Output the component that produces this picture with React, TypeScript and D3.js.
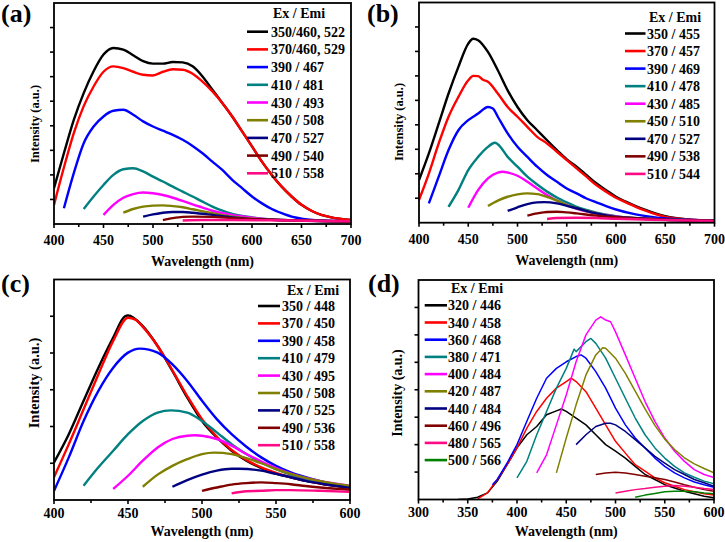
import React from 'react';
import * as d3 from 'd3';

type Pt = [number, number];

// ---------- colours & legends ----------
const colors9 = ['#000000', '#ff0000', '#0000ff', '#008080', '#ff00ff', '#808000', '#000080', '#800000', '#ff0a84'];
const colorsD = ['#000000', '#ff0000', '#0000ff', '#008080', '#ff00ff', '#808000', '#000080', '#800000', '#ff0a84', '#008000'];

const legendA = ['350/460, 522', '370/460, 529', '390 / 467', '410 / 481', '430 / 493', '450 / 508', '470 / 527', '490 / 540', '510 / 558'];
const legendB = ['350 / 455', '370 / 457', '390 / 469', '410 / 478', '430 / 485', '450 / 510', '470 / 527', '490 / 538', '510 / 544'];
const legendC = ['350 / 448', '370 / 450', '390 / 458', '410 / 479', '430 / 495', '450 / 508', '470 / 525', '490 / 536', '510 / 558'];
const legendD = ['320 / 446', '340 / 458', '360 / 468', '380 / 471', '400 / 484', '420 / 487', '440 / 484', '460 / 496', '480 / 565', '500 / 566'];

const ticksAB = [400, 450, 500, 550, 600, 650, 700];
const ticksC = [400, 450, 500, 550, 600];
const ticksD = [300, 350, 400, 450, 500, 550, 600];

// ---------- panel (a) ----------
const a350: Pt[] = [[400, 1.46], [410, 2.88], [420, 4.24], [430, 5.33], [440, 6.22], [450, 6.9], [460, 7.17], [470, 7.1], [480, 6.87], [490, 6.63], [500, 6.53], [510, 6.53], [520, 6.6], [530, 6.58], [540, 6.42], [550, 6.01], [560, 5.47], [570, 4.93], [580, 4.38], [590, 3.77], [600, 3.16], [610, 2.54], [620, 2.0], [630, 1.52], [640, 1.12], [650, 0.78], [660, 0.54], [670, 0.37], [680, 0.27], [700, 0.16]];
const a370: Pt[] = [[400, 0.78], [410, 2.3], [420, 3.7], [430, 4.8], [440, 5.6], [450, 6.2], [460, 6.42], [470, 6.35], [480, 6.2], [490, 6.08], [500, 6.05], [510, 6.2], [520, 6.3], [530, 6.28], [540, 6.12], [550, 5.8], [560, 5.4], [570, 4.93], [580, 4.38], [590, 3.77], [600, 3.16], [610, 2.54], [620, 2.0], [630, 1.52], [640, 1.12], [650, 0.78], [660, 0.54], [670, 0.37], [680, 0.27], [700, 0.16]];
const a390: Pt[] = [[410, 0.64], [420, 2.07], [430, 3.29], [440, 3.97], [450, 4.38], [460, 4.61], [470, 4.65], [480, 4.45], [490, 4.18], [500, 3.97], [510, 3.8], [520, 3.63], [530, 3.43], [540, 3.18], [550, 2.88], [560, 2.54], [570, 2.2], [580, 1.8], [590, 1.46], [600, 1.12], [610, 0.84], [620, 0.61], [630, 0.44], [640, 0.3], [650, 0.22], [670, 0.14], [700, 0.1]];
const a410: Pt[] = [[430, 0.61], [440, 1.12], [450, 1.59], [460, 2.0], [470, 2.23], [480, 2.27], [490, 2.14], [500, 1.93], [510, 1.73], [520, 1.52], [530, 1.32], [540, 1.12], [550, 0.91], [560, 0.71], [570, 0.54], [580, 0.41], [600, 0.27], [620, 0.19], [650, 0.14], [700, 0.1]];
const a430: Pt[] = [[450, 0.37], [460, 0.78], [470, 1.07], [480, 1.22], [490, 1.28], [500, 1.25], [510, 1.18], [520, 1.07], [530, 0.94], [540, 0.8], [550, 0.67], [560, 0.54], [580, 0.37], [600, 0.26], [630, 0.16], [700, 0.1]];
const a450: Pt[] = [[470, 0.46], [480, 0.61], [490, 0.71], [500, 0.75], [510, 0.76], [520, 0.73], [530, 0.68], [540, 0.6], [560, 0.44], [580, 0.3], [600, 0.22], [650, 0.14], [700, 0.1]];
const a470: Pt[] = [[490, 0.3], [500, 0.39], [510, 0.46], [520, 0.49], [530, 0.49], [540, 0.46], [560, 0.37], [580, 0.27], [600, 0.2], [650, 0.14], [700, 0.1]];
const a490: Pt[] = [[510, 0.16], [520, 0.24], [530, 0.29], [540, 0.3], [560, 0.29], [580, 0.24], [600, 0.2], [650, 0.14], [700, 0.1]];
const a510: Pt[] = [[530, 0.14], [550, 0.16], [580, 0.16], [620, 0.15], [700, 0.11]];

// ---------- panel (b) ----------
const b350: Pt[] = [[400, 1.74], [410, 2.83], [420, 4.05], [430, 5.28], [440, 6.37], [450, 7.32], [455, 7.52], [460, 7.46], [470, 6.98], [480, 6.23], [490, 5.41], [500, 4.73], [510, 4.19], [520, 3.78], [530, 3.37], [540, 2.97], [550, 2.59], [560, 2.29], [570, 1.95], [580, 1.61], [590, 1.33], [600, 1.06], [610, 0.86], [620, 0.68], [630, 0.52], [640, 0.38], [650, 0.27], [660, 0.19], [680, 0.11], [700, 0.08]];
const b370: Pt[] = [[400, 0.93], [410, 2.01], [420, 3.24], [430, 4.33], [440, 5.14], [450, 5.82], [455, 6.0], [460, 5.99], [465, 5.84], [470, 5.76], [480, 5.28], [490, 4.73], [500, 4.33], [510, 3.92], [520, 3.51], [530, 3.24], [540, 2.9], [550, 2.56], [560, 2.22], [570, 1.88], [580, 1.54], [590, 1.27], [600, 1.02], [610, 0.83], [620, 0.65], [630, 0.49], [640, 0.35], [650, 0.24], [660, 0.18], [680, 0.11], [700, 0.07]];
const b390: Pt[] = [[410, 0.79], [420, 1.88], [430, 2.97], [440, 3.78], [450, 4.19], [460, 4.46], [470, 4.73], [475, 4.67], [480, 4.33], [490, 3.65], [500, 3.1], [510, 2.69], [520, 2.29], [530, 1.95], [540, 1.67], [550, 1.4], [560, 1.2], [570, 0.99], [580, 0.83], [590, 0.68], [600, 0.54], [620, 0.34], [640, 0.22], [660, 0.15], [700, 0.08]];
const b410: Pt[] = [[430, 0.65], [440, 1.33], [450, 2.15], [460, 2.69], [470, 3.1], [477, 3.27], [480, 3.21], [490, 2.69], [500, 2.29], [510, 1.88], [520, 1.56], [530, 1.27], [540, 1.03], [550, 0.83], [560, 0.65], [570, 0.52], [580, 0.41], [600, 0.27], [620, 0.19], [650, 0.12], [700, 0.07]];
const b430: Pt[] = [[450, 0.61], [460, 1.33], [470, 1.81], [480, 2.05], [485, 2.08], [490, 2.05], [500, 1.92], [510, 1.67], [520, 1.4], [530, 1.13], [540, 0.9], [550, 0.72], [560, 0.57], [580, 0.38], [600, 0.26], [630, 0.16], [700, 0.08]];
const b450: Pt[] = [[470, 0.68], [480, 0.9], [490, 1.06], [500, 1.16], [510, 1.2], [520, 1.17], [530, 1.06], [540, 0.9], [550, 0.72], [560, 0.59], [580, 0.38], [600, 0.24], [650, 0.14], [700, 0.08]];
const b470: Pt[] = [[490, 0.48], [500, 0.63], [510, 0.76], [520, 0.83], [527, 0.84], [540, 0.79], [550, 0.69], [560, 0.59], [580, 0.38], [600, 0.24], [650, 0.14], [700, 0.08]];
const b490: Pt[] = [[510, 0.29], [520, 0.38], [530, 0.44], [540, 0.45], [550, 0.42], [560, 0.38], [580, 0.29], [600, 0.22], [650, 0.12], [700, 0.08]];
const b510: Pt[] = [[530, 0.15], [540, 0.19], [560, 0.2], [580, 0.19], [600, 0.16], [650, 0.11], [700, 0.07]];

// ---------- panel (c) ----------
const c350: Pt[] = [[400, 1.02], [410, 1.79], [420, 2.7], [430, 3.6], [440, 4.42], [448, 5.0], [450, 5.02], [460, 4.73], [470, 4.19], [480, 3.51], [490, 2.79], [500, 2.15], [510, 1.7], [520, 1.34], [530, 1.07], [540, 0.87], [550, 0.72], [560, 0.62], [570, 0.52], [580, 0.45], [590, 0.39], [600, 0.33]];
const c370: Pt[] = [[400, 0.62], [410, 1.52], [420, 2.47], [430, 3.42], [440, 4.33], [450, 4.96], [455, 4.91], [460, 4.71], [470, 4.19], [480, 3.53], [490, 2.83], [500, 2.2], [510, 1.72], [520, 1.36], [530, 1.09], [540, 0.89], [550, 0.74], [560, 0.62], [570, 0.53], [580, 0.45], [590, 0.39], [600, 0.33]];
const c390: Pt[] = [[400, 0.25], [410, 1.16], [420, 2.15], [430, 2.97], [440, 3.6], [450, 4.01], [458, 4.12], [470, 4.01], [480, 3.69], [490, 3.24], [500, 2.7], [510, 2.2], [520, 1.79], [530, 1.45], [540, 1.16], [550, 0.93], [560, 0.75], [570, 0.62], [580, 0.51], [590, 0.42], [600, 0.34]];
const c410: Pt[] = [[420, 0.39], [430, 0.89], [440, 1.34], [450, 1.79], [460, 2.15], [470, 2.38], [479, 2.44], [490, 2.38], [500, 2.15], [510, 1.84], [520, 1.52], [530, 1.25], [540, 1.02], [550, 0.84], [560, 0.69], [570, 0.57], [580, 0.48], [590, 0.42], [600, 0.36]];
const c430: Pt[] = [[440, 0.3], [450, 0.66], [460, 1.07], [470, 1.43], [480, 1.66], [490, 1.75], [495, 1.76], [500, 1.75], [510, 1.66], [520, 1.48], [530, 1.25], [540, 1.05], [550, 0.87], [560, 0.72], [570, 0.6], [580, 0.51], [600, 0.39]];
const c450: Pt[] = [[460, 0.36], [470, 0.69], [480, 0.93], [490, 1.11], [500, 1.25], [508, 1.29], [520, 1.25], [530, 1.14], [540, 1.0], [550, 0.84], [560, 0.71], [570, 0.6], [580, 0.51], [600, 0.38]];
const c470: Pt[] = [[480, 0.36], [490, 0.54], [500, 0.69], [510, 0.8], [520, 0.85], [525, 0.85], [540, 0.8], [550, 0.71], [560, 0.62], [570, 0.52], [580, 0.45], [600, 0.33]];
const c490: Pt[] = [[500, 0.25], [510, 0.34], [520, 0.42], [530, 0.46], [540, 0.48], [550, 0.46], [560, 0.43], [570, 0.38], [580, 0.34], [600, 0.28]];
const c510: Pt[] = [[520, 0.18], [530, 0.24], [540, 0.25], [550, 0.27], [560, 0.27], [580, 0.25], [600, 0.22]];

// ---------- panel (d) ----------
const d320: Pt[] = [[340, 0.0], [350, 0.02], [360, 0.08], [370, 0.24], [380, 0.67], [390, 1.27], [400, 1.88], [410, 2.36], [420, 2.66], [430, 3.09], [440, 3.23], [445, 3.3], [450, 3.21], [460, 2.97], [470, 2.72], [480, 2.36], [490, 2.0], [500, 1.76], [510, 1.51], [520, 1.21], [530, 0.91], [540, 0.73], [550, 0.54], [560, 0.42], [570, 0.3], [580, 0.21], [590, 0.12], [600, 0.06]];
const d340: Pt[] = [[360, 0.02], [370, 0.24], [380, 0.73], [390, 1.27], [400, 1.88], [410, 2.6], [420, 3.21], [430, 3.69], [440, 4.06], [450, 4.3], [455, 4.42], [460, 4.3], [470, 3.93], [480, 3.33], [490, 2.72], [500, 2.12], [510, 1.69], [520, 1.27], [530, 1.03], [540, 0.79], [550, 0.61], [560, 0.48], [570, 0.36], [580, 0.28], [590, 0.21], [600, 0.16]];
const d360: Pt[] = [[375, 0.54], [380, 0.73], [390, 1.33], [400, 2.0], [410, 2.85], [420, 3.69], [430, 4.42], [440, 4.78], [450, 5.02], [460, 5.21], [465, 5.27], [470, 5.15], [480, 4.66], [490, 4.06], [500, 3.33], [510, 2.72], [520, 2.24], [530, 1.88], [540, 1.51], [550, 1.21], [560, 0.97], [570, 0.79], [580, 0.64], [590, 0.54], [600, 0.45]];
const d380: Pt[] = [[400, 0.79], [410, 1.39], [420, 2.36], [430, 3.21], [440, 4.06], [450, 4.78], [458, 5.48], [460, 5.39], [470, 5.75], [475, 5.87], [480, 5.69], [490, 5.15], [500, 4.42], [510, 3.69], [520, 2.97], [530, 2.36], [540, 1.88], [550, 1.51], [560, 1.21], [570, 0.97], [580, 0.81], [590, 0.67], [600, 0.57]];
const d400: Pt[] = [[420, 0.97], [430, 1.63], [440, 2.72], [450, 3.81], [460, 5.02], [470, 6.0], [480, 6.54], [485, 6.66], [490, 6.54], [495, 6.48], [500, 6.11], [510, 5.27], [520, 4.42], [530, 3.57], [540, 2.85], [550, 2.24], [560, 1.76], [570, 1.39], [580, 1.09], [590, 0.91], [600, 0.8]];
const d420: Pt[] = [[440, 0.97], [450, 2.24], [460, 3.45], [470, 4.54], [480, 5.27], [487, 5.53], [490, 5.51], [500, 5.15], [510, 4.6], [520, 3.95], [530, 3.3], [540, 2.7], [550, 2.2], [560, 1.82], [570, 1.52], [580, 1.3], [590, 1.13], [600, 0.97]];
const d440: Pt[] = [[460, 2.0], [470, 2.36], [480, 2.66], [490, 2.78], [495, 2.78], [500, 2.72], [510, 2.48], [520, 2.18], [530, 1.88], [540, 1.57], [550, 1.33], [560, 1.09], [570, 0.91], [580, 0.73], [590, 0.61], [600, 0.48]];
const d460: Pt[] = [[480, 0.91], [490, 0.97], [500, 0.99], [510, 0.97], [520, 0.91], [530, 0.85], [540, 0.79], [550, 0.73], [560, 0.64], [570, 0.54], [580, 0.45], [590, 0.36], [600, 0.3]];
const d480: Pt[] = [[500, 0.24], [510, 0.3], [520, 0.36], [530, 0.4], [540, 0.45], [550, 0.48], [560, 0.51], [570, 0.48], [580, 0.45], [590, 0.4], [600, 0.36]];
const d500: Pt[] = [[520, 0.08], [530, 0.16], [540, 0.22], [550, 0.28], [560, 0.3], [570, 0.3], [580, 0.28], [590, 0.24], [600, 0.21]];

const FONT = '"Liberation Serif", "Times New Roman", serif';

interface LegendCfg { headerX: number; headerY: number; lineX0: number; lineX1: number; textX: number; row0: number; dy: number; }
interface PanelCfg {
  l: number; r: number; t: number; b: number;
  xDomain: [number, number]; xTicks: number[]; yMax: number;
  series: Pt[][]; colors: string[]; labels: string[];
  legend: LegendCfg; letter: string; letterX: number; letterY: number;
  tickLabelY: number; titleY: number; yLabelX: number; yLabelY: number; yLabelSize: number;
  curve: d3.CurveFactory; lineW: number; id: string;
}

function Panel(p: PanelCfg) {
  const x = d3.scaleLinear().domain(p.xDomain).range([p.l, p.r]);
  const y = d3.scaleLinear().domain([0, p.yMax]).range([p.b, p.t]);
  const line = d3.line<Pt>().x(d => x(d[0])).y(d => y(d[1])).curve(p.curve);
  const step = p.xTicks[1] - p.xTicks[0];
  const minor: number[] = p.xTicks.slice(0, -1).map(v => v + step / 2);
  const yTicks = d3.range(1, p.yMax);
  return (
    <g>
      <defs>
        <clipPath id={'clip' + p.id}>
          <rect x={p.l} y={p.t} width={p.r - p.l} height={p.b - p.t} />
        </clipPath>
      </defs>
      <g clipPath={`url(#clip${p.id})`}>
        {p.series.map((s, i) => (
          <path key={i} d={line(s) || ''} fill="none" stroke={p.colors[i]} strokeWidth={p.lineW} strokeLinejoin="round" />
        ))}
      </g>
      <rect x={p.l} y={p.t} width={p.r - p.l} height={p.b - p.t} fill="none" stroke="#000" strokeWidth={1.8} />
      {p.xTicks.map(v => (
        <g key={'xt' + v}>
          <line x1={x(v)} x2={x(v)} y1={p.b} y2={p.b + 4} stroke="#000" strokeWidth={1.6} />
          <text x={x(v)} y={p.tickLabelY} textAnchor="middle" fontFamily={FONT} fontWeight="bold" fontSize={14}>{v}</text>
        </g>
      ))}
      {minor.map(v => (
        <line key={'xm' + v} x1={x(v)} x2={x(v)} y1={p.b} y2={p.b + 3} stroke="#000" strokeWidth={1.6} />
      ))}
      {yTicks.map(v => (
        <line key={'yt' + v} x1={p.l - 4} x2={p.l} y1={y(v)} y2={y(v)} stroke="#000" strokeWidth={1.6} />
      ))}
      <text x={(p.l + p.r) / 2} y={p.titleY} textAnchor="middle" fontFamily={FONT} fontWeight="bold" fontSize={14}>Wavelength (nm)</text>
      <text transform={`translate(${p.yLabelX},${p.yLabelY}) rotate(-90)`} textAnchor="middle" fontFamily={FONT} fontWeight="bold" fontSize={p.yLabelSize}>Intensity (a.u.)</text>
      <text x={p.letterX} y={p.letterY} fontFamily={FONT} fontWeight="bold" fontSize={26}>{p.letter}</text>
      <text x={p.legend.headerX} y={p.legend.headerY} fontFamily={FONT} fontWeight="bold" fontSize={14}>Ex / Emi</text>
      {p.labels.map((lab, i) => {
        const cy = p.legend.row0 + i * p.legend.dy;
        return (
          <g key={'lg' + i}>
            <line x1={p.legend.lineX0} x2={p.legend.lineX1} y1={cy} y2={cy} stroke={p.colors[i]} strokeWidth={2.6} />
            <text x={p.legend.textX} y={cy + 5} fontFamily={FONT} fontWeight="bold" fontSize={14}>{lab}</text>
          </g>
        );
      })}
    </g>
  );
}

export default function App() {
  const smooth = d3.curveMonotoneX;
  return (
    <svg width={725} height={542} style={{ position: 'absolute', left: 0, top: 0, background: '#fff' }}>
      <rect width={725} height={542} fill="#fff" />
      <Panel id="a" l={54} r={351} t={3} b={224} xDomain={[400, 700]} xTicks={ticksAB} yMax={9}
        series={[a350, a370, a390, a410, a430, a450, a470, a490, a510]} colors={colors9} labels={legendA}
        legend={{ headerX: 273, headerY: 18, lineX0: 247, lineX1: 268, textX: 271, row0: 31.7, dy: 17.7 }}
        letter="(a)" letterX={1} letterY={22} tickLabelY={245} titleY={266} yLabelX={39} yLabelY={124} yLabelSize={12.5}
        curve={smooth} lineW={2.4} />
      <Panel id="b" l={419} r={714.5} t={2.5} b={222.7} xDomain={[400, 700]} xTicks={ticksAB} yMax={9}
        series={[b350, b370, b390, b410, b430, b450, b470, b490, b510]} colors={colors9} labels={legendB}
        legend={{ headerX: 649, headerY: 21.5, lineX0: 625, lineX1: 645.5, textX: 647, row0: 33.5, dy: 17.55 }}
        letter="(b)" letterX={367} letterY={22} tickLabelY={244} titleY={265} yLabelX={403} yLabelY={122} yLabelSize={12.5}
        curve={smooth} lineW={2.4} />
      <Panel id="c" l={54} r={350} t={279.5} b={500} xDomain={[400, 600]} xTicks={ticksC} yMax={6}
        series={[c350, c370, c390, c410, c430, c450, c470, c490, c510]} colors={colors9} labels={legendC}
        legend={{ headerX: 287, headerY: 295, lineX0: 258, lineX1: 280, textX: 282, row0: 306, dy: 17.4 }}
        letter="(c)" letterX={1} letterY={292} tickLabelY={518} titleY={536} yLabelX={39} yLabelY={383} yLabelSize={14.5}
        curve={smooth} lineW={2.4} />
      <Panel id="d" l={418.5} r={714} t={280} b={499.5} xDomain={[300, 600]} xTicks={ticksD} yMax={8}
        series={[d320, d340, d360, d380, d400, d420, d440, d460, d480, d500]} colors={colorsD} labels={legendD}
        legend={{ headerX: 451, headerY: 292.7, lineX0: 424.7, lineX1: 447, textX: 448, row0: 305.3, dy: 17.2 }}
        letter="(d)" letterX={368} letterY={292} tickLabelY={517} titleY={536} yLabelX={402} yLabelY={393} yLabelSize={14}
        curve={d3.curveLinear} lineW={1.5} />
    </svg>
  );
}
